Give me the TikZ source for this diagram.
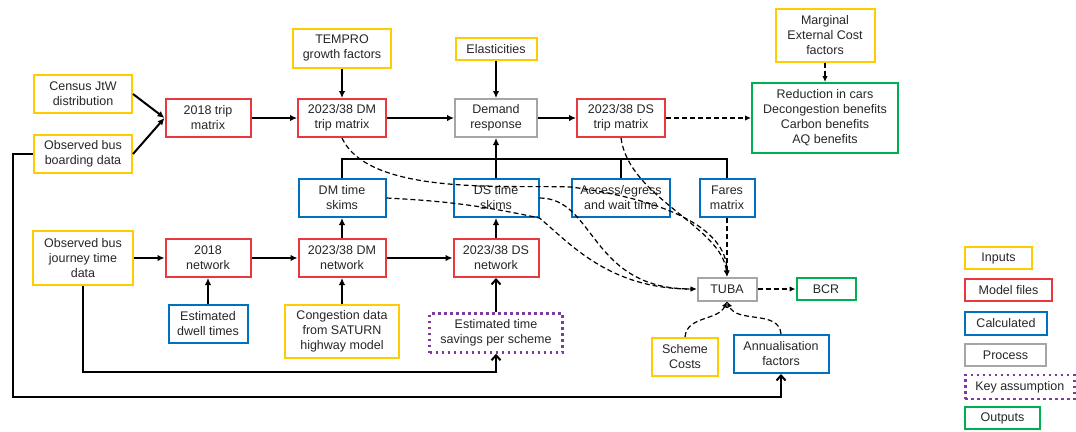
\documentclass[tikz,border=0pt]{standalone}
\usepackage{fontspec}
\setmainfont{Liberation Sans}
\usepackage{tikz}
\usetikzlibrary{positioning, arrows.meta}
\usepackage{xcolor}
\definecolor{inyellow}{HTML}{FFCC00}
\definecolor{modelred}{HTML}{E8383D}
\definecolor{calcblue}{HTML}{0070C0}
\definecolor{procgray}{HTML}{A6A6A6}
\definecolor{keypurple}{HTML}{7F3A9F}
\definecolor{outgreen}{HTML}{00B050}

\begin{document}
\begin{tikzpicture}[ x=1pt, y=1pt, on grid, box/.style={ rectangle, draw, line width=2pt, align=center, inner sep=1pt, minimum height=38pt, text=black!85, font=\fontsize{12.5}{15}\selectfont }, input/.style={box, draw=inyellow}, model/.style={box, draw=modelred}, calc/.style={box, draw=calcblue}, process/.style={box, draw=procgray}, keybox/.style={box, draw=keypurple, line width=2.5pt, dash pattern=on 2.5pt off 3.5pt}, output/.style={box, draw=outgreen}, arrow/.style={ -{Latex[length=7pt, width=6.5pt]}, line width=2pt }, barb/.style={ -{Straight Barb[length=5pt, width=9pt]}, line width=2pt }, link/.style={ line width=2pt }, dasharrow/.style={ -{Latex[length=6pt, width=5.5pt]}, line width=1.2pt, dash pattern=on 5pt off 3pt } ]
\useasboundingbox (0,0) rectangle (1076,-431);

% --- Matrici di domanda ---
\node[model, minimum width=85pt] (trip18) at (208,-118) {2018 trip\\matrix};

\node[input, minimum width=98pt, above left=24pt and 125pt of trip18] (census) {Census JtW\\distribution};

\node[input, minimum width=98pt, below=60pt of census] (boarding) {Observed bus\\boarding data};

\node[model, minimum width=88pt, right=134pt of trip18] (dmtrip) {2023/38 DM\\trip matrix};

\node[input, minimum width=98pt, minimum height=39pt, above=70pt of dmtrip] (tempro) {TEMPRO\\growth factors};

\node[process, minimum width=82pt, right=154pt of dmtrip] (demand) {Demand\\response};

\node[input, minimum width=81pt, minimum height=22pt, above=69pt of demand] (elast) {Elasticities};

\node[model, minimum width=88pt, right=125pt of demand] (dstrip) {2023/38 DS\\trip matrix};

\node[output, minimum width=146pt, minimum height=70pt, right=204pt of dstrip] (outputs) {Reduction in cars\\Decongestion benefits\\Carbon benefits\\AQ benefits};

\node[input, minimum width=99pt, minimum height=53pt, above=83pt of outputs] (mec) {Marginal\\External Cost\\factors};


% --- Skim ---
\node[calc, minimum width=87pt, below=80pt of dmtrip] (dmskim) {DM time\\skims};

\node[calc, minimum width=85pt, below=80pt of demand] (dsskim) {DS time\\skims};

\node[calc, minimum width=98pt, below=80pt of dstrip] (access) {Access/egress\\and wait time};

\node[calc, minimum width=55pt, right=106pt of access] (fares) {Fares\\matrix};


% --- Reti ---
\node[model, minimum width=87pt, below=60pt of dmskim] (dmnet) {2023/38 DM\\network};

\node[model, minimum width=85pt, below=60pt of dsskim] (dsnet) {2023/38 DS\\network};

\node[model, minimum width=85pt, left=134pt of dmnet] (net18) {2018\\network};

\node[input, minimum width=100pt, minimum height=54pt, left=125pt of net18] (journey) {Observed bus\\journey time\\data};

\node[calc, minimum width=79pt, below=66pt of net18] (dwell) {Estimated\\dwell times};

\node[input, minimum width=114pt, minimum height=53pt, below=73pt of dmnet] (congest) {Congestion data\\from SATURN\\highway model};

\node[keybox, minimum width=133pt, minimum height=39pt, below=75pt of dsnet] (savings) {Estimated time\\savings per scheme};


% --- Valutazione ---
\node[process, minimum width=59pt, minimum height=23pt, below=91pt of fares] (tuba) {TUBA};

\node[output, minimum width=59pt, minimum height=22pt, right=99pt of tuba] (bcr) {BCR};

\node[input, minimum width=66pt, below left=68pt and 42pt of tuba] (costs) {Scheme\\Costs};

\node[calc, minimum width=95pt, below right=65pt and 54pt of tuba] (annual) {Annualisation\\factors};


% --- Legenda ---
\node[input, minimum width=67pt, minimum height=22pt, anchor=west] (legin) at (964,-258) {Inputs};

\node[model, minimum width=87pt, minimum height=22pt, below=32pt of legin.west, anchor=west] (legmodel) {Model files};

\node[calc, minimum width=82pt, minimum height=23pt, below=33pt of legmodel.west, anchor=west] (legcalc) {Calculated};

\node[process, minimum width=81pt, minimum height=22pt, below=32pt of legcalc.west, anchor=west] (legproc) {Process};

\node[keybox, minimum width=109pt, minimum height=24pt, below=32pt of legproc.west, anchor=west] (legkey) {Key assumption};

\node[output, minimum width=75pt, minimum height=22pt, below=31pt of legkey.west, anchor=west] (legout) {Outputs};


% --- Collegamenti ---
\draw[arrow] (census.east) -- (trip18.west); \draw[arrow] (boarding.east) -- (trip18.west); \draw[arrow] (trip18) -- (dmtrip); \draw[arrow] (tempro) -- (dmtrip); \draw[arrow] (dmtrip) -- (demand); \draw[arrow] (elast) -- (demand); \draw[arrow] (demand) -- (dstrip);

\draw[dasharrow] (dstrip) -- (outputs); \draw[dasharrow] (mec) -- (outputs);

\draw[link] (dmskim.north) |- ([yshift=19pt]fares.north) -- (fares.north); \draw[link] (access.north) -- ++(0,19); \draw[arrow] (dsskim) -- (demand);

\draw[arrow] (journey.east |- net18) -- (net18); \draw[arrow] (net18) -- (dmnet); \draw[arrow] (dmnet) -- (dsnet); \draw[arrow] (dmnet) -- (dmskim); \draw[arrow] (dsnet) -- (dsskim); \draw[arrow] (dwell) -- (net18); \draw[arrow] (congest) -- (dmnet); \draw[barb] (savings) -- (dsnet);

\draw[barb] (journey.south) -- ++(0,-86) -| (savings.south); \draw[barb] (boarding.west) -- ++(-20,0) -- ++(0,-243) -| (annual.south);

% --- Input a TUBA ---
\draw[dasharrow] (dmtrip.south) to[out=-65, in=178, looseness=0.7] ([yshift=-9pt]access.north west) .. controls +(90,-12) and +(0,50) .. (tuba.north); \draw[dasharrow] (dstrip.south) .. controls +(8,-60) and +(-5,50) .. (tuba.north); \draw[dasharrow] (dsskim.east) .. controls +(56,0) and +(-107,0) .. (tuba.west); \draw[dasharrow] (dmskim.east) to[out=-3, in=168] (dsskim.south east) .. controls +(31,-26) and +(-87,0) .. (tuba.west); \draw[dasharrow] (fares) -- (tuba); \draw[dasharrow] (costs.north) to[out=85, in=-115] (tuba.south); \draw[dasharrow] (annual.north) to[out=95, in=-65] (tuba.south); \draw[dasharrow] (tuba) -- (bcr);
\end{tikzpicture}
\end{document}
